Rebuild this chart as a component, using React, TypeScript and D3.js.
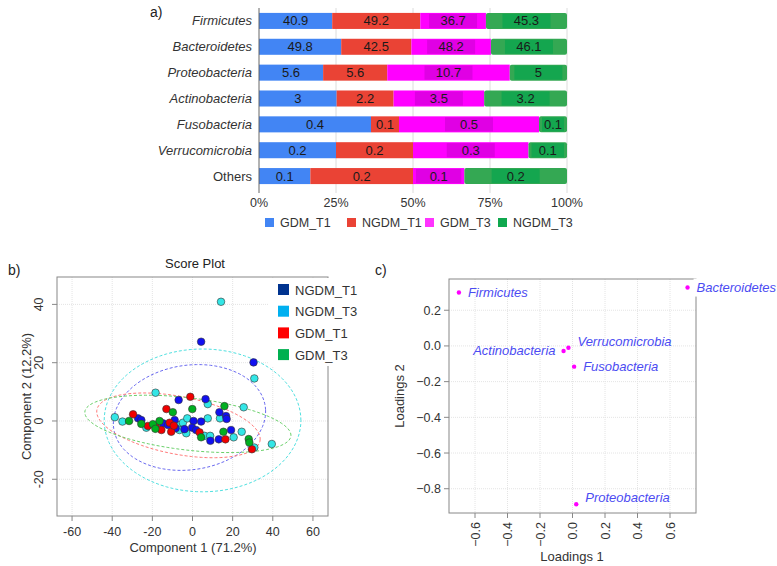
import React from "react";
import * as d3 from "d3";

// ---- panel a: relative abundance per phylum ----
const phyla = [
  "Firmicutes",
  "Bacteroidetes",
  "Proteobacteria",
  "Actinobacteria",
  "Fusobacteria",
  "Verrucomicrobia",
  "Others",
];
const groupsA = ["GDM_T1", "NGDM_T1", "GDM_T3", "NGDM_T3"];
const gdmT1 = [40.9, 49.8, 5.6, 3, 0.4, 0.2, 0.1];
const ngdmT1 = [49.2, 42.5, 5.6, 2.2, 0.1, 0.2, 0.2];
const gdmT3 = [36.7, 48.2, 10.7, 3.5, 0.5, 0.3, 0.1];
const ngdmT3 = [45.3, 46.1, 5, 3.2, 0.1, 0.1, 0.2];
const pctTicks = [0, 0.25, 0.5, 0.75, 1];

// ---- panel b: PCA score plot ----
const scoreGroups = ["NGDM_T1", "NGDM_T3", "GDM_T1", "GDM_T3"];
const ngdmT1Scores = [
  [4.3, 27.2], [30.4, 20.1], [-6.9, 7.2], [6.5, 7.5], [13.4, 3.0], [16.7, 1.7],
  [17, 0.7], [-27.1, 0.9], [-25.5, 0.3], [-14.7, -0.8], [-12.2, -1.4], [-8.9, 0.3],
  [-8.4, -2.5], [-4, -2.8], [0.5, 0], [-0.2, -2.3], [1.8, -3.1], [4.3, -0.2],
  [8.9, -6.8], [13.1, -6.3], [19.2, -3.1],
];
const ngdmT3Scores = [
  [14.2, 40.9], [30.8, 14.6], [-18.4, 9.7], [7.6, 5.8], [25.5, 4.7], [13.7, 0.9],
  [-38.7, 1.3], [-34.9, -0.2], [-23, -2.3], [-16.7, -1.9], [-7.3, -1.4], [-6.5, -3.1],
  [-4.8, -0.6], [-3.1, -4.2], [-2.6, 0.9], [7.6, 0.9], [6, -5.1], [8.8, -5.1],
  [20.5, -5.6], [24.5, -3.7], [30.8, -9.1], [39.5, -7.9],
];
const gdmT1Scores = [
  [-1.1, 8.3], [-13, 4.1], [-29.6, 2.3], [-22.2, -1.7], [-18.4, -1.9], [-15.5, -3.1],
  [-11.4, -0.6], [-10.6, -3.7], [-9.3, -1.6], [3.5, -3.9], [16.4, -6.3], [29.6, -9.7],
];
const gdmT3Scores = [
  [15.9, 5.1], [-0.1, 4.1], [-9.8, 3.0], [-31.6, 0], [-25.5, -1.0], [-19.7, -1.1],
  [-18.5, -2.7], [-16.4, 0], [4.3, -5.6], [15.4, -3.7], [28, -6.2], [28.3, -7.4],
];
// confidence ellipses: centre x, centre y, semi axis a, semi axis b, angle (deg)
const ellipseNgdmT1 = [-1.5, 1.2, 38, 18, 4];
const ellipseNgdmT3 = [5, 0.2, 49, 24.5, 0];
const ellipseGdmT1 = [-7, -1.5, 41, 10, -7];
const ellipseGdmT3 = [-2.3, -1, 51.5, 9, -4.5];
const scoreXTicks = [-60, -40, -20, 0, 20, 40, 60];
const scoreYTicks = [-20, 0, 20, 40];

// ---- panel c: loadings ----
const loadNames = [
  "Firmicutes",
  "Bacteroidetes",
  "Proteobacteria",
  "Actinobacteria",
  "Fusobacteria",
  "Verrucomicrobia",
];
const loadX = [-0.699, 0.708, 0.023, -0.055, 0.01, -0.025];
const loadY = [0.299, 0.327, -0.887, -0.028, -0.116, -0.01];
const loadXTicks = [-0.6, -0.4, -0.2, 0, 0.2, 0.4, 0.6];
const loadYTicks = [0.2, 0, -0.2, -0.4, -0.6, -0.8];

const FONT = "Liberation Sans, Arial, Helvetica, sans-serif";
const barColors = ["#4285f4", "#ea4335", "#ff00ff", "#34a853"];
const boxColors = [null, null, "#e000e4", "#14a64f"];
const legendA = ["#4285f4", "#ea4335", "#ff33ff", "#0fa84e"];

function BarPanel() {
  const x = d3.scaleLinear().domain([0, 1]).range([259, 567]);
  const y = d3
    .scaleBand()
    .domain(phyla)
    .range([8, 189])
    .paddingInner(0.38)
    .paddingOuter(0.19);

  const rows = phyla.map((p, i) => ({
    phylum: p,
    GDM_T1: gdmT1[i],
    NGDM_T1: ngdmT1[i],
    GDM_T3: gdmT3[i],
    NGDM_T3: ngdmT3[i],
  }));
  const series = d3.stack().keys(groupsA).offset(d3.stackOffsetExpand)(rows as any);
  const legendX = [265, 347, 425, 498];

  return (
    <g fontFamily={FONT}>
      <text x={150} y={17} fontSize={14} fill="#222">a)</text>
      {pctTicks.slice(1).map((t) => (
        <line key={t} x1={x(t)} x2={x(t)} y1={8} y2={193} stroke="#dcdcdc" />
      ))}
      {series.map((s, gi) =>
        s.map((d, ri) => {
          const x0 = x(d[0]);
          const x1 = x(d[1]);
          const yy = y(phyla[ri])!;
          const bw = y.bandwidth();
          const val = (rows[ri] as any)[groupsA[gi]];
          const cx = (x0 + x1) / 2;
          const boxW = Math.min(48, x1 - x0 - 6);
          return (
            <g key={gi + "-" + ri}>
              <rect x={x0} y={yy} width={x1 - x0} height={bw} fill={barColors[gi]} rx={gi === 3 ? 2 : 0} />
              {boxColors[gi] && (
                <rect x={cx - boxW / 2} y={yy + 1} width={boxW} height={bw - 2} fill={boxColors[gi]!} />
              )}
              <text x={cx} y={yy + bw / 2 + 4.5} textAnchor="middle" fontSize={13} fill="#1a1a1a">
                {String(val)}
              </text>
            </g>
          );
        })
      )}
      {phyla.map((p) => (
        <text
          key={p}
          x={252}
          y={y(p)! + y.bandwidth() / 2 + 4.5}
          textAnchor="end"
          fontSize={13}
          fontStyle={p === "Others" ? "normal" : "italic"}
          fill="#333"
        >
          {p}
        </text>
      ))}
      <line x1={259} x2={259} y1={8} y2={193} stroke="#666" />
      {pctTicks.map((t) => (
        <text key={t} x={x(t)} y={207} textAnchor="middle" fontSize={12.5} fill="#333">
          {t * 100 + "%"}
        </text>
      ))}
      {groupsA.map((g, i) => (
        <g key={g}>
          <rect x={legendX[i]} y={218} width={9} height={9} fill={legendA[i]} />
          <text x={legendX[i] + 15} y={227} fontSize={12.5} fill="#333">{g}</text>
        </g>
      ))}
    </g>
  );
}

function ellipsePath(e: number[], x: any, y: any) {
  const [cx, cy, a, b, ang] = e;
  const th = (ang * Math.PI) / 180;
  const pts = d3.range(0, 101).map((i) => {
    const t = (i / 100) * 2 * Math.PI;
    const ex = a * Math.cos(t);
    const ey = b * Math.sin(t);
    return [cx + ex * Math.cos(th) - ey * Math.sin(th), cy + ex * Math.sin(th) + ey * Math.cos(th)];
  });
  return d3.line().x((d) => x(d[0])).y((d) => y(d[1]))(pts as any) as string;
}

function ScorePanel() {
  const x = d3.scaleLinear().domain([-67.5, 67.5]).range([57, 328]);
  const y = d3.scaleLinear().domain([-32.6, 49.4]).range([516, 277]);
  const scoreSets = [ngdmT3Scores, ngdmT1Scores, gdmT1Scores, gdmT3Scores];
  const pointColors = ["#33e6e6", "#1010f0", "#f00000", "#00b020"];
  const ellipses = [ellipseNgdmT3, ellipseNgdmT1, ellipseGdmT1, ellipseGdmT3];
  const ellColors = ["#50e0e0", "#6a6af0", "#ff7878", "#6ad06a"];
  const legendColors = ["#00338f", "#00b0f0", "#ff0000", "#00b050"];

  return (
    <g fontFamily={FONT} fill="#333">
      <text x={8} y={275} fontSize={14} fill="#222">b)</text>
      <text x={195} y={268} textAnchor="middle" fontSize={13} fill="#222">Score Plot</text>
      {scoreXTicks.map((t) => (
        <line key={"gx" + t} x1={x(t)} x2={x(t)} y1={277} y2={516} stroke="#e4e4e4" strokeDasharray="1,1" />
      ))}
      {scoreYTicks.map((t) => (
        <line key={"gy" + t} x1={57} x2={328} y1={y(t)} y2={y(t)} stroke="#e4e4e4" strokeDasharray="1,1" />
      ))}
      {ellipses.map((e, i) => (
        <path key={i} d={ellipsePath(e, x, y)} fill="none" stroke={ellColors[i]} strokeDasharray="3,2" />
      ))}
      {scoreSets.map((set, gi) =>
        set.map((d, i) => (
          <circle key={gi + "-" + i} cx={x(d[0])} cy={y(d[1])} r={3.8} fill={pointColors[gi]} stroke="#333" strokeWidth={0.6} />
        ))
      )}
      <rect x={57} y={277} width={271} height={239} fill="none" stroke="#888" />
      {scoreXTicks.map((t) => (
        <g key={"tx" + t}>
          <line x1={x(t)} x2={x(t)} y1={516} y2={521} stroke="#888" />
          <text x={x(t)} y={536} textAnchor="middle" fontSize={12.5}>{t}</text>
        </g>
      ))}
      {scoreYTicks.map((t) => (
        <g key={"ty" + t}>
          <line x1={52} x2={57} y1={y(t)} y2={y(t)} stroke="#888" />
          <text transform={`translate(43,${y(t)}) rotate(-90)`} textAnchor="middle" fontSize={12.5}>{t}</text>
        </g>
      ))}
      <text x={193} y={552} textAnchor="middle" fontSize={13}>Component 1 (71.2%)</text>
      <text transform={`translate(31,396.5) rotate(-90)`} textAnchor="middle" fontSize={13}>Component 2 (12.2%)</text>
      <rect x={268} y={278} width={95} height={88} fill="#fff" />
      {scoreGroups.map((g, i) => (
        <g key={g}>
          <rect x={278} y={284 + i * 21.7} width={11} height={11} fill={legendColors[i]} />
          <text x={295} y={294.5 + i * 21.7} fontSize={13}>{g}</text>
        </g>
      ))}
    </g>
  );
}

function LoadingPanel() {
  const x = d3.scaleLinear().domain([-0.76, 0.76]).range([449, 696]);
  const y = d3.scaleLinear().domain([-0.936, 0.375]).range([513, 279]);
  // label placement: dx, dy, anchor
  const labelPos: Record<string, [number, number, string]> = {
    Firmicutes: [9, 4.5, "start"],
    Bacteroidetes: [9, 4.5, "start"],
    Proteobacteria: [9, -2, "start"],
    Actinobacteria: [-8, 4.5, "end"],
    Fusobacteria: [9, 4.5, "start"],
    Verrucomicrobia: [9, -1.5, "start"],
  };
  const fmt = d3.format(".1f");

  return (
    <g fontFamily={FONT} fill="#333">
      <text x={375} y={275} fontSize={14} fill="#222">c)</text>
      {loadXTicks.map((t) => (
        <line key={"gx" + t} x1={x(t)} x2={x(t)} y1={279} y2={513} stroke="#e4e4e4" strokeDasharray="1,1" />
      ))}
      {loadYTicks.map((t) => (
        <line key={"gy" + t} x1={449} x2={696} y1={y(t)} y2={y(t)} stroke="#e4e4e4" strokeDasharray="1,1" />
      ))}
      <rect x={449} y={279} width={247} height={234} fill="none" stroke="#888" />
      {loadXTicks.map((t) => (
        <g key={"tx" + t}>
          <line x1={x(t)} x2={x(t)} y1={513} y2={518} stroke="#888" />
          <text transform={`translate(${x(t) + 4.5},522) rotate(-90)`} textAnchor="end" fontSize={12.5}>{fmt(t)}</text>
        </g>
      ))}
      {loadYTicks.map((t) => (
        <g key={"ty" + t}>
          <line x1={444} x2={449} y1={y(t)} y2={y(t)} stroke="#888" />
          <text x={441} y={y(t) + 4.5} textAnchor="end" fontSize={12.5}>{fmt(t)}</text>
        </g>
      ))}
      <text x={572} y={561} textAnchor="middle" fontSize={13}>Loadings 1</text>
      <text transform={`translate(404,396) rotate(-90)`} textAnchor="middle" fontSize={13}>Loadings 2</text>
      {loadNames.map((n, i) => {
        const [dx, dy, anchor] = labelPos[n];
        const px = x(loadX[i]);
        const py = y(loadY[i]);
        return (
          <g key={n}>
            {n === "Bacteroidetes" && <rect x={px + 6} y={py - 9} width={82} height={18} fill="#fff" />}
            <circle cx={px} cy={py} r={2.2} fill="#f0f" />
            <text x={px + dx} y={py + dy} textAnchor={anchor} fontSize={13} fontStyle="italic" fill="#4b4bf2">
              {n}
            </text>
          </g>
        );
      })}
    </g>
  );
}

export default function App() {
  return (
    <svg
      width={777}
      height={566}
      style={{ position: "absolute", left: 0, top: 0, background: "#fff" }}
    >
      <rect width={777} height={566} fill="#fff" />
      <BarPanel />
      <ScorePanel />
      <LoadingPanel />
    </svg>
  );
}
